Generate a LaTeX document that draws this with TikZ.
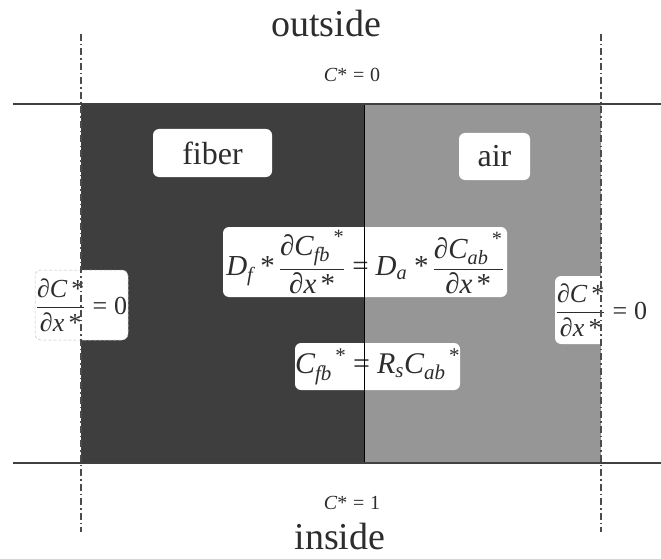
\documentclass[tikz,border=0pt]{standalone}
\usepackage{amsmath}
\usepackage{fontspec}
\setmainfont{Liberation Serif}
\newcommand\mi[1]{\text{\itshape #1}}
\newcommand\st{\text{*}}
\newcommand\eqs{\mathrel{\text{=}}}
\definecolor{fibercol}{RGB}{62,62,62}
\definecolor{aircol}{RGB}{150,150,150}
\definecolor{inkcol}{RGB}{45,45,45}
\begin{document}
\begin{tikzpicture}[x=1pt,y=-1pt,
  wbox/.style={fill=white, rounded corners=6pt, inner sep=0pt, text=inkcol},
  bigtxt/.style={text=inkcol, font=\fontsize{38}{40}\selectfont, inner sep=0pt},
  bctxt/.style={text=inkcol, font=\fontsize{20}{22}\selectfont, inner sep=0pt},
  lbl/.style={font=\fontsize{32}{34}\selectfont},
  eqf/.style={font=\fontsize{29}{32}\selectfont},
  eqg/.style={font=\fontsize{30}{34}\selectfont},
  bcf/.style={font=\fontsize{26}{28}\selectfont},
  dashdot/.style={line width=1.2pt, draw=black!70, dash pattern=on 7pt off 3pt on 1.5pt off 3pt},
  bound/.style={line width=1.8pt, draw=black!75},
  divider/.style={line width=0.8pt, draw=black}]
\useasboundingbox (0,0) rectangle (661,559);
% regions
\fill[fibercol] (81,104) rectangle (364,463);
\fill[aircol] (364,104) rectangle (601,463);
% coordinates
\coordinate (tl) at (13,104); \coordinate (tr) at (661,104);
\coordinate (bl) at (13,463); \coordinate (br) at (661,463);
\coordinate (vlt) at (81,34); \coordinate (vlb) at (81,532);
\coordinate (vrt) at (601,34); \coordinate (vrb) at (601,532);
\coordinate (dt) at (364,104); \coordinate (db) at (364,463);
% labels
\node[wbox, lbl, minimum width=119, minimum height=48] (fiber) at (212.5,153) {fiber};
\node[wbox, lbl, minimum width=71, minimum height=47] (air) at (494.5,156.5) {air};
% boxes with equations
\node[wbox, eqf, minimum width=284, minimum height=70] (eqa) at (365,262)
  {$\mi{D}_{\mi{f}}\;\st\,\dfrac{{\mi{∂C}_{\mi{fb}}}^{\,\st}}{\mi{∂x}\,\st}\eqs\mi{D}_{\mi{a}}\;\st\,\dfrac{{\mi{∂C}_{\mi{ab}}}^{\,\st}}{\mi{∂x}\,\st}$};
\node[wbox, eqg, minimum width=165, minimum height=47] (eqb) at (377.5,366.5)
  {${\mi{C}_{\mi{fb}}}^{\,\st}\eqs\mi{R}_{\mi{s}}{\mi{C}_{\mi{ab}}}^{\,\st}$};
\node[wbox, bcf, minimum width=93, minimum height=70, draw=black!25, densely dashed, line width=0.5pt] (bcl) at (81.5,305)
  {$\dfrac{\mi{∂C}\,\st}{\mi{∂x}\,\st}\eqs\text{0}$};
\node[wbox, bcf, minimum width=93, minimum height=68] (bcr) at (601.5,310)
  {$\dfrac{\mi{∂C}\,\st}{\mi{∂x}\,\st}\eqs\text{0}$};
% lines
\draw[divider] (dt) -- (db);
\draw[bound] (tl) -- (tr);
\draw[bound] (bl) -- (br);
\draw[dashdot] (vlt) -- (vlb);
\draw[dashdot] (vrt) -- (vrb);
% outside texts
\node[bigtxt, anchor=base] (outside) at (326,37) {outside};
\node[bctxt] (czero) at (352,75) {$\mi{C}\st\eqs\text{0}$};
\node[bctxt] (cone) at (352,503) {$\mi{C}\st\eqs\text{1}$};
\node[bigtxt, anchor=base] (inside) at (340,549) {inside};
\end{tikzpicture}
\end{document}
